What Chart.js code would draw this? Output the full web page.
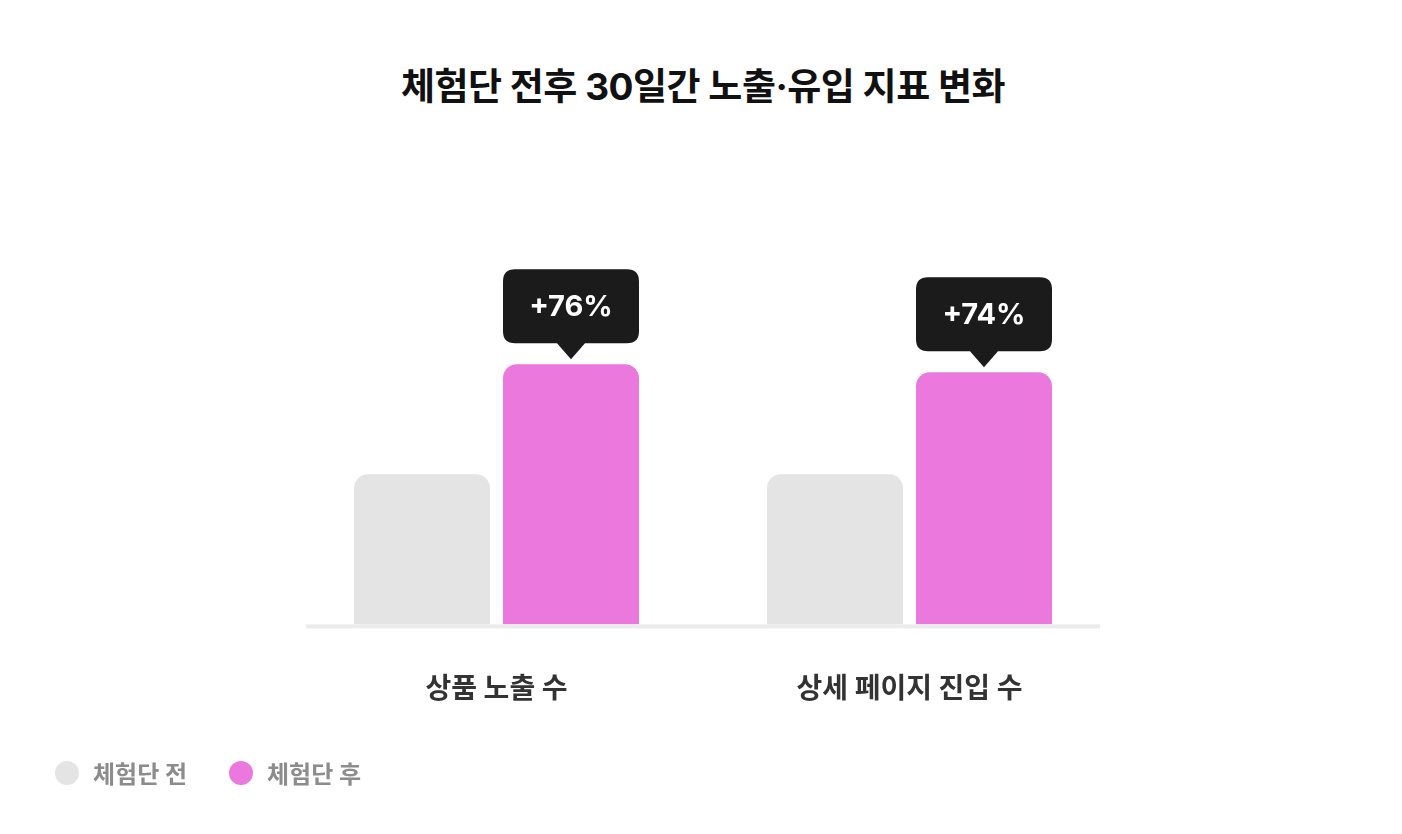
<!DOCTYPE html>
<html lang="ko">
<head>
<meta charset="utf-8">
<script src="https://cdn.jsdelivr.net/npm/chart.js@4.4.1/dist/chart.umd.min.js"></script>
<style>
  html, body { margin: 0; padding: 0; background: #ffffff; }
  body { width: 1402px; height: 834px; position: relative; overflow: hidden;
         font-family: Inter, "Noto Sans CJK KR", sans-serif; }
  #title { position: absolute; left: 0; right: 0; top: 62px; text-align: center;
           font-size: 37px; font-weight: 700; color: #111111; letter-spacing: -0.5px; line-height: 50px; padding-left: 4px; }
  #chartWrap { position: absolute; left: 0; top: 0; width: 1402px; height: 834px; }
  #legend { position: absolute; left: 55px; top: 755px; display: flex; align-items: center;
            font-size: 24px; font-weight: 700; color: #8c8c8c; }
  .item { display: flex; align-items: center; margin-right: 42px; }
  .dot { width: 24px; height: 24px; border-radius: 50%; margin-right: 14px; }
</style>
</head>
<body>
<div id="title"></div>
<div id="chartWrap"><canvas id="c" width="1402" height="834"></canvas></div>
<div id="legend"></div>
<script>
const titleText = "체험단 전후 30일간 노출·유입 지표 변화";
const categories = ["상품 노출 수", "상세 페이지 진입 수"];
const seriesNames = ["체험단 전", "체험단 후"];
const beforeValues = [150, 150];
const afterValues = [260, 252];
const changeLabels = ["+76%", "+74%"];
const seriesColors = ["#e4e4e4", "#ea78dd"];

document.getElementById('title').textContent = titleText;
const legendEl = document.getElementById('legend');
seriesNames.forEach((n, i) => {
  const it = document.createElement('div'); it.className = 'item';
  const d = document.createElement('span'); d.className = 'dot'; d.style.background = seriesColors[i];
  const t = document.createElement('span'); t.textContent = n;
  it.appendChild(d); it.appendChild(t); legendEl.appendChild(it);
});

const baselinePlugin = {
  id: 'baseline',
  afterDatasetsDraw(chart) {
    const ctx = chart.ctx, a = chart.chartArea;
    ctx.save();
    ctx.fillStyle = '#ebebeb';
    ctx.fillRect(a.left + 16, a.bottom, a.right - a.left - 32, 4);
    ctx.restore();
  }
};

const calloutPlugin = {
  id: 'callout',
  afterDatasetsDraw(chart) {
    const ctx = chart.ctx;
    const meta = chart.getDatasetMeta(1);
    meta.data.forEach((bar, i) => {
      const w = bar.width;
      const left = bar.x - w / 2, right = bar.x + w / 2;
      const bottom = bar.y - 21, top = bar.y - 95, r = 12;
      ctx.save();
      ctx.fillStyle = '#1b1b1b';
      ctx.beginPath();
      ctx.moveTo(left + r, top);
      ctx.lineTo(right - r, top);
      ctx.quadraticCurveTo(right, top, right, top + r);
      ctx.lineTo(right, bottom - r);
      ctx.quadraticCurveTo(right, bottom, right - r, bottom);
      ctx.lineTo(bar.x + 14, bottom);
      ctx.lineTo(bar.x, bar.y - 5);
      ctx.lineTo(bar.x - 14, bottom);
      ctx.lineTo(left + r, bottom);
      ctx.quadraticCurveTo(left, bottom, left, bottom - r);
      ctx.lineTo(left, top + r);
      ctx.quadraticCurveTo(left, top, left + r, top);
      ctx.closePath();
      ctx.fill();
      ctx.fillStyle = '#ffffff';
      ctx.font = '700 29px Inter, "Noto Sans CJK KR", sans-serif';
      ctx.textAlign = 'center';
      ctx.textBaseline = 'middle';
      ctx.fillText(changeLabels[i], bar.x, (top + bottom) / 2 + 1);
      ctx.restore();
    });
  }
};

new Chart(document.getElementById('c'), {
  type: 'bar',
  data: {
    labels: categories,
    datasets: [
      { label: seriesNames[0], data: beforeValues, backgroundColor: seriesColors[0] },
      { label: seriesNames[1], data: afterValues, backgroundColor: seriesColors[1] }
    ]
  },
  options: {
    responsive: false,
    animation: false,
    events: [],
    layout: { padding: { left: 290, right: 286, top: 224, bottom: 88 } },
    datasets: {
      bar: {
        categoryPercentage: 0.7215,
        barPercentage: 0.9128,
        borderRadius: { topLeft: 14, topRight: 14, bottomLeft: 0, bottomRight: 0 },
        borderSkipped: 'bottom'
      }
    },
    plugins: { legend: { display: false }, tooltip: { enabled: false }, title: { display: false } },
    scales: {
      y: { display: false, min: 0, max: 400 },
      x: {
        grid: { display: false },
        border: { display: false },
        ticks: {
          padding: 40,
          color: '#333333',
          font: { family: 'Inter, "Noto Sans CJK KR", sans-serif', size: 28, weight: '700' }
        }
      }
    }
  },
  plugins: [baselinePlugin, calloutPlugin]
});
</script>
</body>
</html>
